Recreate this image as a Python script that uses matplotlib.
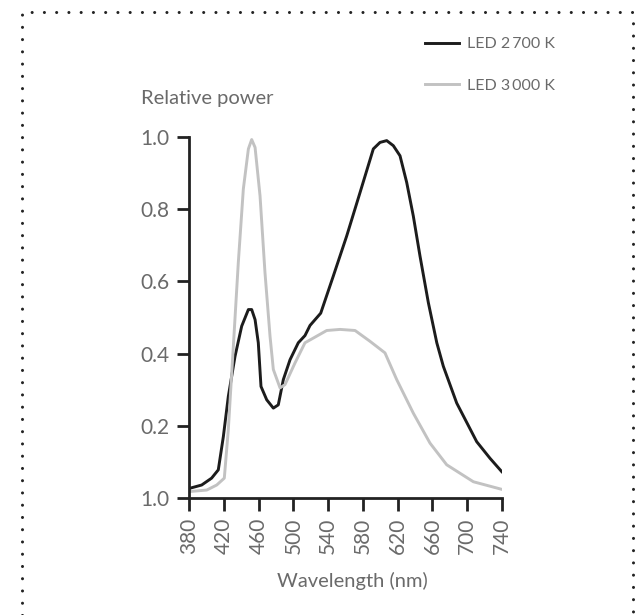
import numpy as np
import matplotlib.pyplot as plt
from matplotlib.lines import Line2D

plt.rcParams['font.family'] = ['Lato', 'DejaVu Sans']

# spectra (wavelength in nm, relative power)
wl_2700 = [381, 394.6, 406, 413.7, 419.5, 425.2, 432.9, 440.6, 448.3, 452.1, 456, 459.7,
           462.8, 469.4, 477, 482.7, 488.5, 496.2, 505.7, 513.4, 519.2, 531.5, 546, 561.4,
           576.7, 592, 599.7, 607.4, 615, 622.7, 630.4, 638, 645.7, 655.3, 665, 672.5,
           687.9, 710.9, 726.2, 739.7]
pw_2700 = [0.027, 0.036, 0.055, 0.078, 0.170, 0.281, 0.392, 0.476, 0.522, 0.522, 0.494, 0.430,
           0.309, 0.272, 0.249, 0.258, 0.328, 0.383, 0.430, 0.450, 0.478, 0.512, 0.615, 0.726,
           0.846, 0.967, 0.985, 0.990, 0.976, 0.948, 0.874, 0.781, 0.670, 0.541, 0.430, 0.365,
           0.263, 0.156, 0.110, 0.073]

wl_3000 = [381, 400.4, 411.9, 420.6, 425.2, 431, 436.7, 442.5, 448.3, 452.1, 456, 461.7,
           467.4, 473.2, 477, 484.7, 490.4, 501.9, 513.4, 523, 538.4, 553.7, 571, 588.2,
           605.4, 618.9, 638, 657.2, 676.4, 707.1, 739.7]
pw_3000 = [0.018, 0.022, 0.036, 0.055, 0.189, 0.420, 0.652, 0.856, 0.967, 0.993, 0.971, 0.837,
           0.624, 0.448, 0.356, 0.305, 0.314, 0.374, 0.430, 0.443, 0.464, 0.467, 0.464, 0.434,
           0.402, 0.328, 0.235, 0.152, 0.092, 0.045, 0.024]

xticks = list(range(380, 741, 40))
yticks = [0.0, 0.2, 0.4, 0.6, 0.8, 1.0]
ytick_labels = ['1.0', '0.2', '0.4', '0.6', '0.8', '1.0']
series_labels = ['LED 2\u2009700 K', 'LED 3\u2009000 K']

W, H = 636, 615
fig = plt.figure(figsize=(W / 100, H / 100), dpi=100)

def fx(px):
    return px / W

def fy(py):
    return 1 - py / H

ax = fig.add_axes([fx(189), fy(498), fx(502) - fx(189), fy(137) - fy(498)])

grey_txt = '#6a6a6a'
ax.plot(wl_2700, pw_2700, color='#1c1c1c', lw=2.1, solid_joinstyle='round', label=series_labels[0])
ax.plot(wl_3000, pw_3000, color='#c2c2c2', lw=2.1, solid_joinstyle='round', label=series_labels[1])

ax.set_xlim(380, 740)
ax.set_ylim(0, 1.0)
ax.set_xticks(xticks)
ax.set_xticklabels([str(t) for t in xticks], rotation=90)
ax.set_yticks(yticks)
ax.set_yticklabels(ytick_labels)

for s in ['top', 'right']:
    ax.spines[s].set_visible(False)
for s in ['left', 'bottom']:
    ax.spines[s].set_linewidth(2)
    ax.spines[s].set_color('#222222')
ax.tick_params(length=9, width=2, color='#222222', labelsize=15, labelcolor=grey_txt, pad=5)

fig.text(fx(141), fy(104), 'Relative power', fontsize=14.5, color=grey_txt, va='baseline', ha='left')
fig.text(fx(352), fy(587), 'Wavelength (nm)', fontsize=14.5, color=grey_txt, va='baseline', ha='center')

fig.legend(loc='upper left', bbox_to_anchor=(fx(425), fy(37)), frameon=False, fontsize=11.5,
           labelcolor=grey_txt, handlelength=2.1, handletextpad=0.55, labelspacing=1.7,
           borderpad=0, borderaxespad=0)

# dotted frame around the chart
frame = Line2D([fx(22), fx(22), fx(633), fx(633)], [0, fy(12), fy(12), 0],
               transform=fig.transFigure, color='#222222', lw=2.2,
               linestyle=(0, (0.01, 4)), dash_capstyle='round')
fig.add_artist(frame)

fig.savefig('out.png', dpi=100)
